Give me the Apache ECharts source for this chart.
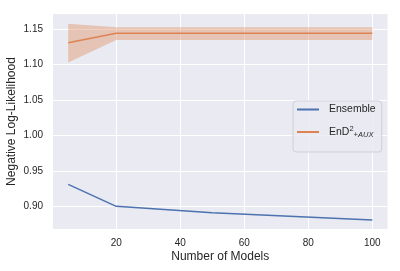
<!DOCTYPE html>
<html>
<head>
<meta charset="utf-8">
<script src="https://cdn.jsdelivr.net/npm/echarts@6/dist/echarts.min.js"></script>
<style>html,body{margin:0;padding:0;background:#fff;}#c{width:400px;height:271px;}</style>
</head>
<body>
<div id="c"></div>
<script>
const numModels = [5, 20, 50, 100];
const ensembleNLL = [0.931, 0.900, 0.891, 0.8806];
const endNLL = [1.131, 1.1443, 1.1443, 1.1443];
const endLower = [1.103, 1.135, 1.135, 1.135];
const endUpper = [1.158, 1.1528, 1.1528, 1.1528];
const xTicks = [20, 40, 60, 80, 100];
const yTicks = [0.90, 0.95, 1.00, 1.05, 1.10, 1.15];
const seriesNames = ['Ensemble', 'EnD2AUX'];

const txt = '#262626';
const font = 'Liberation Sans, Arial, sans-serif';
const pairs = (xs, ys) => xs.map((x, i) => [x, ys[i]]);
const bandData = numModels.map((x, i) => [x, endLower[i], endUpper[i]]);

const chart = echarts.init(document.getElementById('c'), null, {renderer: 'canvas'});
chart.setOption({
  animation: false,
  backgroundColor: '#ffffff',
  textStyle: {fontFamily: font, color: txt},
  grid: {left: 53, right: 12.5, top: 14, bottom: 42, show: true, backgroundColor: '#EAEAF2', borderWidth: 0,
    containLabel: false, outerBoundsMode: 'none'},
  xAxis: {
    type: 'value', min: 0.25, max: 104.75,
    name: 'Number of Models', nameLocation: 'middle', nameGap: 22, nameMoveOverlap: false,
    nameTextStyle: {fontSize: 12, color: txt, fontFamily: font},
    axisLine: {show: false}, axisTick: {show: false, customValues: xTicks},
    axisLabel: {customValues: xTicks, fontSize: 10, color: txt, margin: 9, fontFamily: font},
    splitLine: {show: true, lineStyle: {color: '#ffffff', width: 1}}
  },
  yAxis: {
    type: 'value', min: 0.868, max: 1.1716,
    name: 'Negative Log-Likelihood', nameLocation: 'middle', nameGap: 35, nameRotate: 90, nameMoveOverlap: false,
    nameTextStyle: {fontSize: 12, color: txt, fontFamily: font},
    axisLine: {show: false}, axisTick: {show: false, customValues: yTicks},
    axisLabel: {customValues: yTicks, fontSize: 10, color: txt, margin: 10, fontFamily: font,
      formatter: v => v.toFixed(2)},
    splitLine: {show: true, lineStyle: {color: '#ffffff', width: 1}}
  },
  legend: {
    left: 293, top: 101,
    orient: 'vertical',
    data: [{name: seriesNames[0]}, {name: seriesNames[1]}],
    icon: 'rect', itemWidth: 22, itemHeight: 2, itemGap: 10,
    padding: [3, 6, 13, 4],
    backgroundColor: 'rgba(234,234,242,0.8)',
    borderColor: '#cfcfd6', borderWidth: 1, borderRadius: 3,
    textStyle: {fontSize: 10.5, color: txt, fontFamily: font,
      rich: {
        n: {fontSize: 10.5, color: txt, fontFamily: font, padding: [0, 0, 0, 5]},
        sup: {fontSize: 7.5, color: txt, fontFamily: font, verticalAlign: 'top', padding: [0, 0, 6, 0]},
        sub: {fontSize: 7.5, color: txt, fontFamily: font, fontStyle: 'italic', padding: [6, 0, 0, 0], verticalAlign: 'bottom'}
      }
    },
    formatter: name => name === 'Ensemble' ? '{n|Ensemble}' : '{n|EnD}{sup|2}{sub|+AUX}'
  },
  series: [
    {
      name: 'band', type: 'custom', silent: true, z: 1,
      data: bandData,
      encode: {x: 0, y: [1, 2]},
      renderItem: function (params, api) {
        if (params.dataIndex !== 0) return null;
        const top = [], bot = [];
        for (let i = 0; i < bandData.length; i++) {
          top.push(api.coord([bandData[i][0], bandData[i][2]]));
          bot.push(api.coord([bandData[i][0], bandData[i][1]]));
        }
        return {
          type: 'polygon',
          shape: {points: top.concat(bot.reverse())},
          style: {fill: 'rgba(221,132,82,0.38)', stroke: 'none'}
        };
      }
    },
    {
      name: seriesNames[0], type: 'line', data: pairs(numModels, ensembleNLL),
      showSymbol: false, symbol: 'none', color: '#4C72B0', lineStyle: {width: 1.5, color: '#4C72B0'}, z: 3
    },
    {
      name: seriesNames[1], type: 'line', data: pairs(numModels, endNLL),
      showSymbol: false, symbol: 'none', color: '#DD8452', lineStyle: {width: 1.5, color: '#DD8452'}, z: 3
    }
  ]
});
</script>
</body>
</html>
